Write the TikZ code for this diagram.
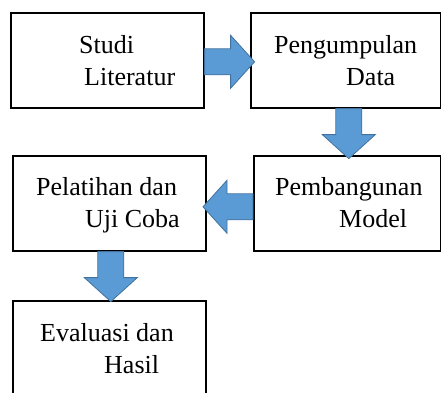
\documentclass[tikz,border=0pt]{standalone}
\usepackage{fontspec}
\setmainfont{Liberation Serif}
\usepackage{xcolor}
\definecolor{biru}{RGB}{91,155,213}
\definecolor{birutua}{RGB}{65,113,156}
\tikzset{
    kotak/.style={draw,line width=1.6pt,minimum width=193,minimum height=95,
        anchor=north west,inner sep=0},
    tulisan/.style={anchor=base west,align=left,inner sep=0,
        font=\fontsize{26}{32}\selectfont},
    panah/.pic={
        \filldraw[fill=biru,draw=birutua,line width=0.8pt]
            (0,-13) -- (26,-13) -- (26,-26.5) -- (50,0)
            -- (26,26.5) -- (26,13) -- (0,13) -- cycle;
    }
}
\begin{document}
\begin{tikzpicture}[x=1pt,y=-1pt]
    \useasboundingbox (0,0) rectangle (441,392);
    % kotak
    \node[kotak] (studi) at (10,12) {};
    \node[kotak,minimum width=190] (data) at (250,12) {};
    \node[kotak,minimum width=187] (model) at (253,155) {};
    \node[kotak] (uji) at (12,155) {};
    \node[kotak] (hasil) at (12,300) {};
    % tulisan (base = baris kedua)
    \node[tulisan] (studiT) at (79,85) {Studi\\\hspace*{5pt}Literatur};
    \node[tulisan] (dataT) at (274,85) {Pengumpulan\\\hspace*{72pt}Data};
    \node[tulisan] (modelT) at (275,227) {Pembangunan\\\hspace*{64pt}Model};
    \node[tulisan] (ujiT) at (36,227) {Pelatihan dan\\\hspace*{49pt}Uji Coba};
    \node[tulisan] (hasilT) at (40,373) {Evaluasi dan\\\hspace*{64pt}Hasil};
    % panah
    \pic at ([yshift=-1.5pt]studi.east) {panah};
    \pic[rotate=-90] at ([xshift=3pt]data.south) {panah};
    \pic[rotate=180] at ([yshift=-3.5pt]model.west) {panah};
    \pic[rotate=-90] at ([xshift=1.5pt]uji.south) {panah};
\end{tikzpicture}
\end{document}
